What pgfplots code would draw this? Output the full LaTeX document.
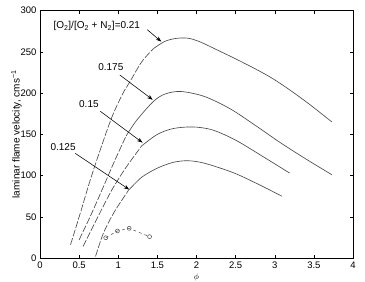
\documentclass[border=0pt]{standalone}
\usepackage{fontspec}
\setmainfont{Liberation Sans}
\usepackage{pgfplots}
\pgfplotsset{compat=1.18}
\usetikzlibrary{arrows.meta}
\definecolor{crv}{HTML}{4A4A4A}
\begin{document}
\begin{tikzpicture}
\begin{axis}[name=ax,
  scale only axis, width=313pt, height=247.3pt,
  xmin=0, xmax=4, ymin=0, ymax=300,
  xtick={0,0.5,...,4}, ytick={0,50,...,300},
  xticklabels={0,0.5,1,1.5,2,2.5,3,3.5,4},
  tick align=inside, tick style={black, line width=0.5pt}, major tick length=3pt,
  axis line style={black, line width=0.6pt},
  /pgf/number format/assume math mode=true,
  ticklabel style={font=\fontsize{9.5}{11}\selectfont},
  xticklabel style={yshift=-0.5pt},
  ylabel={laminar flame velocity, cms\textsuperscript{−1}},
  ylabel style={font=\fontsize{10}{11}\selectfont, yshift=-8pt},
  clip=false,
]
% 0.21
\addplot[crv, line width=0.65pt, dash pattern=on 7pt off 1.8pt, smooth] coordinates {
(0.39,16) (0.52,56) (0.64,94) (0.78,134) (0.915,170) (1.05,198) (1.15,214) (1.3,238) (1.45,254)};
\addplot[crv, line width=0.65pt, smooth] coordinates {
(1.45,254) (1.6,263) (1.75,266.5) (1.9,266.5) (2.05,262) (2.25,253) (2.47,243) (2.7,232) (2.95,219) (3.19,204) (3.45,186) (3.73,165)};
% 0.175
\addplot[crv, line width=0.65pt, dash pattern=on 7pt off 1.8pt, smooth] coordinates {
(0.50,22) (0.65,52) (0.79,82) (0.95,117) (1.1,148)};
\addplot[crv, line width=0.65pt, smooth] coordinates {
(1.1,148) (1.235,167) (1.45,190) (1.6,199) (1.8,202) (2.1,196) (2.43,181) (2.75,161) (3.07,140) (3.4,120) (3.73,101)};
% 0.15
\addplot[crv, line width=0.65pt, dash pattern=on 7pt off 1.8pt, smooth] coordinates {
(0.55,14) (0.73,48) (0.915,82) (1.1,110) (1.3,136)};
\addplot[crv, line width=0.65pt, smooth] coordinates {
(1.3,136) (1.5,150) (1.7,157) (1.95,159) (2.2,155.5) (2.5,143) (2.85,123) (3.19,103)};
% 0.125
\addplot[crv, line width=0.65pt, dash pattern=on 7pt off 1.8pt, smooth] coordinates {
(0.71,2) (0.81,30) (0.95,56) (1.13,82)};
\addplot[crv, line width=0.65pt, smooth] coordinates {
(1.13,82) (1.3,98) (1.5,109) (1.7,116) (1.89,118) (2.1,115) (2.47,103.5) (2.8,89) (3.09,75)};
% circles
\addplot[crv, line width=0.5pt, dash pattern=on 3pt off 3pt, mark=o, mark size=2pt, mark options={solid}] coordinates {
(0.84,24.6) (0.99,32.8) (1.14,36) (1.40,25.9)};
% labels
\node[anchor=west, font=\fontsize{10}{11}\selectfont, inner sep=0pt] at (axis cs:0.17,281) {[O\textsubscript{2}]/[O\textsubscript{2} + N\textsubscript{2}]=0.21};
\draw[black, line width=0.55pt, -{Stealth[length=5.5pt,width=4pt]}] (axis cs:1.37,277) -- (axis cs:1.55,262.5);
\node[font=\fontsize{10}{11}\selectfont, inner sep=0pt] at (axis cs:0.905,232) {0.175};
\draw[black, line width=0.55pt, -{Stealth[length=5.5pt,width=4pt]}] (axis cs:1.02,222) -- (axis cs:1.44,192);
\node[font=\fontsize{10}{11}\selectfont, inner sep=0pt] at (axis cs:0.625,187) {0.15};
\draw[black, line width=0.55pt, -{Stealth[length=5.5pt,width=4pt]}] (axis cs:0.77,178) -- (axis cs:1.31,140);
\node[font=\fontsize{10}{11}\selectfont, inner sep=0pt] at (axis cs:0.295,134) {0.125};
\draw[black, line width=0.55pt, -{Stealth[length=5.5pt,width=4pt]}] (axis cs:0.45,127) -- (axis cs:1.14,83);
\node[anchor=south, inner sep=0pt, font=\fontsize{8}{9}\selectfont] at ([yshift=-23.5pt]rel axis cs:0.5,0) {$\phi$};
\end{axis}
\pgfresetboundingbox
\path[use as bounding box] ([shift={(-40pt,-24pt)}]ax.south west) rectangle ([shift={(12pt,10.7pt)}]ax.north east);
\end{tikzpicture}
\end{document}
